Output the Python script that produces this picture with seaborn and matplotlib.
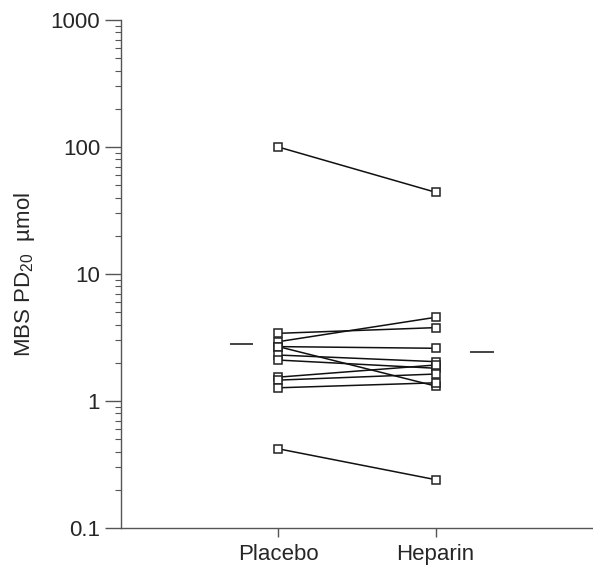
import numpy as np
import pandas as pd
import matplotlib
matplotlib.use("Agg")
import matplotlib.pyplot as plt
from matplotlib.ticker import FixedLocator, FixedFormatter, LogLocator, NullFormatter
import seaborn as sns

# paired values (one entry per subject)
placebo = [100, 3.41, 2.93, 2.68, 2.68, 2.30, 2.10, 1.54, 1.46, 1.27, 0.42]
heparin = [44, 3.78, 4.56, 2.60, 1.31, 2.04, 1.81, 1.92, 1.63, 1.39, 0.24]
groups = ["Placebo", "Heparin"]
group_means = [2.8, 2.43]
yticks = [0.1, 1, 10, 100, 1000]
ytick_labels = ["0.1", "1", "10", "100", "1000"]

n = len(placebo)
df = pd.DataFrame({
    "subject": list(range(n)) * 2,
    "group": [groups[0]] * n + [groups[1]] * n,
    "value": placebo + heparin,
})
df["pos"] = df["group"].map({g: i + 1 for i, g in enumerate(groups)})

sns.set_style("ticks")
plt.rcParams["font.family"] = ["Liberation Sans", "DejaVu Sans"]
plt.rcParams["mathtext.fontset"] = "custom"
plt.rcParams["mathtext.rm"] = "Liberation Sans"
plt.rcParams["mathtext.it"] = "Liberation Sans"

fig = plt.figure(figsize=(5.93, 5.72), dpi=100)
ax = fig.add_axes([0.204, 0.077, 0.796, 0.888])

sns.lineplot(data=df, x="pos", y="value", units="subject", estimator=None,
             color="#111111", linewidth=1.1, marker="s", markersize=5.5,
             markerfacecolor="white", markeredgecolor="#222222",
             markeredgewidth=1.1, legend=False, ax=ax)

# short bars for the group means, beside each column
offsets = [(-0.31, -0.16), (0.22, 0.37)]
for i, m in enumerate(group_means):
    ax.hlines(m, i + 1 + offsets[i][0], i + 1 + offsets[i][1],
              color="#111111", linewidth=1.1)

ax.set_yscale("log")
ax.set_ylim(0.1, 1000)
ax.set_xlim(0, 3)
ax.yaxis.set_major_locator(FixedLocator(yticks))
ax.yaxis.set_major_formatter(FixedFormatter(ytick_labels))
ax.yaxis.set_minor_locator(LogLocator(base=10, subs=np.arange(2, 10)))
ax.yaxis.set_minor_formatter(NullFormatter())
ax.set_xticks([1, 2])
ax.set_xticklabels(groups)

ax.set_xlabel("")
ax.set_ylabel("MBS PD$_{20}$  \u00b5mol", fontsize=16, labelpad=10)

for side in ["top", "right"]:
    ax.spines[side].set_visible(False)
for side in ["left", "bottom"]:
    ax.spines[side].set_color("#555555")
    ax.spines[side].set_linewidth(1.0)

ax.tick_params(axis="y", which="major", length=11.5, width=1.0, color="#555555",
               labelsize=16, pad=3.5)
ax.tick_params(axis="y", which="minor", length=4.3, width=0.8, color="#555555")
ax.tick_params(axis="x", which="major", length=6.5, width=1.0, color="#555555",
               labelsize=16, pad=5)

fig.savefig("out.png", dpi=100)
